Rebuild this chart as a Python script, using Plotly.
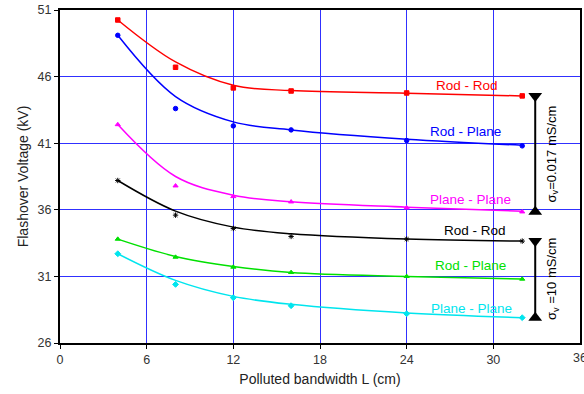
import plotly.graph_objects as go

x_pts = [4, 8, 12, 16, 24, 32]

# measured points
rr_017 = [50.25, 46.7, 45.15, 44.92, 44.77, 44.55]
rp_017 = [49.1, 43.6, 42.3, 42.0, 41.2, 40.8]
pp_017 = [42.4, 37.8, 37.0, 36.6, 36.15, 35.85]
rr_10 = [38.2, 35.6, 34.6, 34.0, 33.8, 33.65]
rp_10 = [33.8, 32.45, 31.7, 31.3, 31.0, 30.8]
pp_10 = [32.7, 30.4, 29.4, 28.8, 28.2, 27.9]

# fitted curves
rr_017_fit = [50.25, 47.1, 45.35, 44.95, 44.75, 44.55]
rp_017_fit = [49.1, 44.5, 42.6, 42.0, 41.3, 40.85]
pp_017_fit = [42.4, 38.5, 37.1, 36.6, 36.2, 35.9]
rr_10_fit = [38.2, 35.9, 34.7, 34.2, 33.8, 33.65]
rp_10_fit = [33.8, 32.5, 31.75, 31.3, 31.0, 30.8]
pp_10_fit = [32.7, 30.7, 29.5, 28.9, 28.25, 27.9]

labels = ["Rod - Rod", "Rod - Plane", "Plane - Plane", "Rod - Rod", "Rod - Plane", "Plane - Plane"]
colors = ["#ff0000", "#0000ff", "#ff00ff", "#000000", "#00e000", "#00e5ee"]
symbols = ["square", "circle", "triangle-up", "asterisk", "triangle-up", "diamond"]
pts = [rr_017, rp_017, pp_017, rr_10, rp_10, pp_10]
fits = [rr_017_fit, rp_017_fit, pp_017_fit, rr_10_fit, rp_10_fit, pp_10_fit]
label_pos = [(28.2, 45.3), (28.1, 41.9), (28.45, 36.75), (28.76, 34.43), (28.4, 31.8), (28.5, 28.6)]
x_ticks = [0, 6, 12, 18, 24, 30, 36]
y_ticks = [26, 31, 36, 41, 46, 51]

fig = go.Figure()
for p, f, c, s in zip(pts, fits, colors, symbols):
    fig.add_trace(go.Scatter(x=x_pts, y=f, mode="lines", line=dict(color=c, width=1.5, shape="spline", smoothing=1.0),
                             hoverinfo="skip", showlegend=False))
    fig.add_trace(go.Scatter(x=x_pts, y=p, mode="markers",
                             marker=dict(color=c, symbol=s, size=4.5, line=dict(color=c, width=1)),
                             showlegend=False))

for lab, c, (lx, ly) in zip(labels, colors, label_pos):
    fig.add_annotation(x=lx, y=ly, text=lab, showarrow=False, font=dict(color=c, size=13.5))

# brackets for conductivity groups
bx = 32.9
for top, bot, txt in [(rr_017[-1], pp_017[-1], "σ<sub>v</sub>=0.017 mS/cm"),
                      (rr_10[-1], pp_10[-1], "σ<sub>v</sub> =10 mS/cm")]:
    fig.add_trace(go.Scatter(x=[bx, bx], y=[top, bot], mode="lines", line=dict(color="black", width=2),
                             hoverinfo="skip", showlegend=False))
    fig.add_trace(go.Scatter(x=[bx], y=[top], mode="markers", marker=dict(symbol="triangle-down", size=12, color="black"),
                             hoverinfo="skip", showlegend=False))
    fig.add_trace(go.Scatter(x=[bx], y=[bot], mode="markers", marker=dict(symbol="triangle-up", size=12, color="black"),
                             hoverinfo="skip", showlegend=False))
    fig.add_annotation(x=bx + 1.2, y=(top + bot) / 2, text=txt, textangle=-90, showarrow=False,
                       font=dict(color="black", size=13))

# last x tick label (partly cut by the page edge, as in the reference)
fig.add_annotation(x=x_ticks[-1], y=0, xref="x", yref="paper", yanchor="top", yshift=-6, text=str(x_ticks[-1]),
                   showarrow=False, font=dict(size=12.5, color="#333333"))

fig.update_layout(
    width=584, height=394,
    margin=dict(l=60, r=2, t=10, b=51),
    plot_bgcolor="white", paper_bgcolor="white",
    font=dict(family="Liberation Sans, Arial, sans-serif", size=12.5, color="#333333"),
    xaxis=dict(range=[0, 36], tickvals=x_ticks[:-1], showgrid=True, gridcolor="#3030ff", gridwidth=1,
               showline=True, linecolor="black", linewidth=2, mirror=True, ticks="outside", ticklen=4,
               tickcolor="black", zeroline=False,
               title=dict(text="Polluted bandwidth L (cm)", font=dict(size=14, color="#222222"), standoff=8)),
    yaxis=dict(range=[26, 51], tickvals=y_ticks, showgrid=True, gridcolor="#3030ff", gridwidth=1,
               showline=True, linecolor="black", linewidth=2, mirror=True, ticks="outside", ticklen=4,
               tickcolor="black", zeroline=False,
               title=dict(text="Flashover Voltage (kV)", font=dict(size=14, color="#222222"), standoff=6)),
)

fig.write_html("out.html")
